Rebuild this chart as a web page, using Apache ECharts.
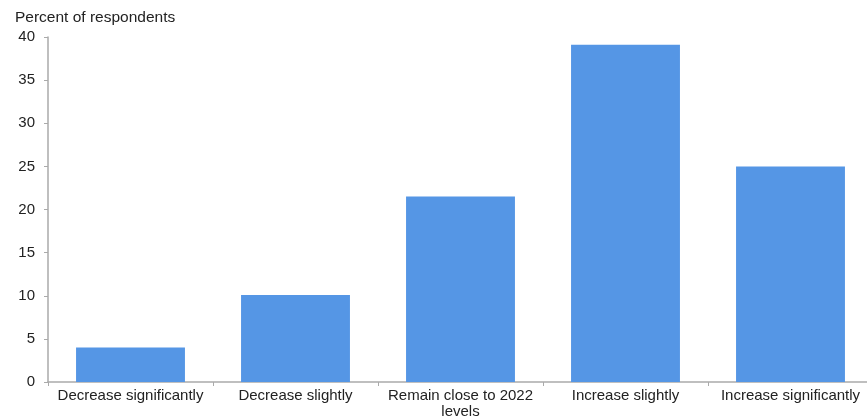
<!DOCTYPE html>
<html>
<head>
<meta charset="utf-8">
<script src="https://cdn.jsdelivr.net/npm/echarts@6/dist/echarts.min.js"></script>
<style>
html,body{margin:0;padding:0;background:#fff;}
#chart{width:867px;height:418px;}
</style>
</head>
<body>
<div id="chart"></div>
<script>
const categories = ["Decrease significantly", "Decrease slightly", "Remain close to 2022\nlevels", "Increase slightly", "Increase significantly"];
const values = [4.0, 10.1, 21.5, 39.1, 25.0];
const yTitle = "Percent of respondents";

const chart = echarts.init(document.getElementById('chart'), null, {renderer: 'canvas'});
chart.setOption({
  animation: false,
  textStyle: {fontFamily: 'Liberation Sans, Arial, sans-serif'},
  title: {
    text: yTitle,
    left: 10, top: 5,
    textStyle: {fontSize: 15.5, fontWeight: 'normal', color: '#222'}
  },
  grid: {left: 48, width: 825, top: 37, bottom: 36, containLabel: false, outerBoundsMode: 'none'},
  xAxis: {
    type: 'category',
    data: categories,
    axisLine: {lineStyle: {color: '#aaa', width: 1.5}},
    axisTick: {show: true, length: 4, lineStyle: {color: '#aaa'}},
    axisLabel: {color: '#222', fontSize: 15, margin: 6, lineHeight: 16, interval: 0}
  },
  yAxis: {
    type: 'value',
    min: 0, max: 40, interval: 5,
    axisLine: {show: true, lineStyle: {color: '#aaa', width: 1.5}},
    axisTick: {show: true, length: 4, lineStyle: {color: '#aaa'}},
    axisLabel: {color: '#222', fontSize: 15, margin: 13},
    splitLine: {show: false}
  },
  series: [{
    type: 'bar',
    data: values,
    barCategoryGap: '34%',
    itemStyle: {color: '#5596E5'}
  }]
});
</script>
</body>
</html>
